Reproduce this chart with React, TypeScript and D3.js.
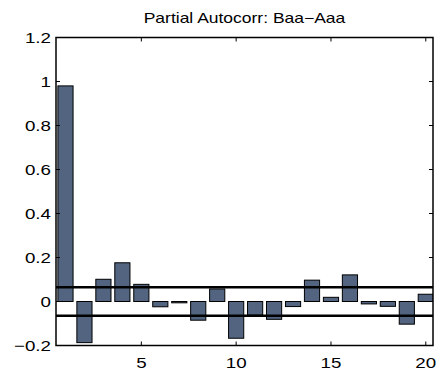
import React from "react";
import * as d3 from "d3";

const lags = [1, 2, 3, 4, 5, 6, 7, 8, 9, 10, 11, 12, 13, 14, 15, 16, 17, 18, 19, 20];
const pacf = [0.98, -0.187, 0.101, 0.176, 0.078, -0.024, -0.006, -0.085, 0.057, -0.167,
  -0.062, -0.081, -0.023, 0.097, 0.019, 0.121, -0.011, -0.022, -0.103, 0.033];
const confBound = 0.065;
const xTicks = [5, 10, 15, 20];
const yTicks = [-0.2, 0, 0.2, 0.4, 0.6, 0.8, 1, 1.2];
const title = "Partial Autocorr: Baa\u2212Aaa";

const W = 440, H = 378;
const L = 56, R = 433, T = 37.5, B = 345.5;
const FS = 15, SX = 1.25;
const font = "'Liberation Sans', Arial, sans-serif";

export default function App() {
  const x = d3.scaleLinear().domain([0.5, 20.38]).range([L, R]);
  const y = d3.scaleLinear().domain([-0.2, 1.2]).range([B, T]);
  const bw = (x(1) - x(0)) * 0.8;
  const fmt = (v: number) => (v < 0 ? "\u2212" + d3.format("")(-v) : d3.format("")(v));
  const tl = 4;
  return (
    <svg width={W} height={H} style={{ position: "absolute", left: 0, top: 0 }}>
      <rect x={0} y={0} width={W} height={H} fill="#fff" />
      <defs>
        <clipPath id="pc"><rect x={L} y={T} width={R - L} height={B - T} /></clipPath>
      </defs>
      <g clipPath="url(#pc)">
        {lags.map((l, i) => {
          const v = pacf[i];
          return (
            <rect key={l} x={x(l) - bw / 2} y={Math.min(y(v), y(0))} width={bw}
              height={Math.abs(y(v) - y(0))} fill="#52647f" stroke="#000" strokeWidth={1} />
          );
        })}
        {[confBound, -confBound].map((c) => (
          <line key={c} x1={L} x2={R} y1={y(c)} y2={y(c)} stroke="#000" strokeWidth={2.5} />
        ))}
      </g>
      {xTicks.map((t) => (
        <g key={"x" + t}>
          <line x1={x(t)} x2={x(t)} y1={B} y2={B - tl} stroke="#000" />
          <line x1={x(t)} x2={x(t)} y1={T} y2={T + tl} stroke="#000" />
          <text transform={`translate(${x(t)},368) scale(${SX},1)`} textAnchor="middle"
            fontFamily={font} fontSize={FS}>{t}</text>
        </g>
      ))}
      {yTicks.map((t) => (
        <g key={"y" + t}>
          <line x1={L} x2={L + tl} y1={y(t)} y2={y(t)} stroke="#000" />
          <line x1={R} x2={R - tl} y1={y(t)} y2={y(t)} stroke="#000" />
          <text transform={`translate(51,${y(t) + 5.5}) scale(${SX},1)`} textAnchor="end"
            fontFamily={font} fontSize={FS}>{fmt(t)}</text>
        </g>
      ))}
      <rect x={L} y={T} width={R - L} height={B - T} fill="none" stroke="#000" strokeWidth={1.5} />
      <text transform={`translate(${(L + R) / 2},23) scale(${SX},1)`} textAnchor="middle"
        fontFamily={font} fontSize={FS - 1}>{title}</text>
    </svg>
  );
}
